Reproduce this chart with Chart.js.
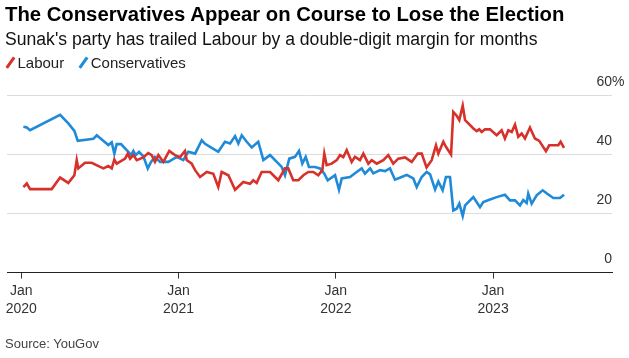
<!DOCTYPE html>
<html>
<head>
<meta charset="utf-8">
<script src="https://cdn.jsdelivr.net/npm/chart.js@4"></script>
<style>
  body { margin: 0; background: #fff; font-family: "Liberation Sans", Arial, sans-serif; color: #000; }
  #wrap { position: relative; width: 629px; height: 358px; overflow: hidden; }
  canvas { position: absolute; left: 0; top: 0; }
  .title { position: absolute; left: 5px; top: 3px; font-size: 20.3px; font-weight: bold; white-space: nowrap; }
  .sub { position: absolute; left: 5px; top: 29px; font-size: 17.6px; white-space: nowrap; color: #111; }
  .legend { position: absolute; left: 6px; top: 54px; font-size: 15px; white-space: nowrap; color: #222; }
  .legend span.key { display: inline-block; width: 2.5px; height: 13px; transform: rotate(35deg); margin: 0 6px 0 3px; vertical-align: -1px; }
  .legend span.key.second { margin-left: 18px; }
  .source { position: absolute; left: 5px; top: 336px; font-size: 13px; color: #444; }
</style>
</head>
<body>
<div id="wrap">
  <canvas id="chart" width="629" height="358"></canvas>
  <div class="title">The Conservatives Appear on Course to Lose the Election</div>
  <div class="sub">Sunak's party has trailed Labour by a double-digit margin for months</div>
  <div class="legend"><span class="key" style="background:#d7312b"></span>Labour<span class="key second" style="background:#1f8bd8"></span>Conservatives</div>
  <div class="source">Source: YouGov</div>
</div>
<script>
// months since Jan 2020, vote share in %
const labourMonths = [0.16,0.42,0.67,2.32,2.96,3.59,4.05,4.23,4.35,4.86,5.37,6.26,6.64,6.90,7.10,7.28,7.92,8.12,8.30,8.55,8.81,9.31,9.69,9.95,10.20,10.46,10.84,11.29,11.73,12.11,12.49,12.62,13.00,13.26,13.64,14.15,14.65,15.03,15.29,15.80,16.31,16.94,17.45,17.70,17.96,18.34,18.98,19.61,20.12,20.37,20.75,21.14,21.52,21.90,22.28,22.66,22.97,23.12,23.30,23.68,24.07,24.32,24.57,24.83,25.21,25.46,25.84,26.10,26.48,26.74,27.12,27.62,28.00,28.38,28.76,29.28,29.79,30.25,30.55,30.92,31.31,31.64,31.82,32.20,32.40,32.79,32.96,33.22,33.42,33.68,33.86,34.11,34.49,34.75,34.94,35.13,35.38,35.76,36.27,36.65,36.90,37.16,37.42,37.67,37.92,38.18,38.43,38.81,39.19,39.52,40.03,40.28,40.97,41.15,41.41];
const labourShare = [28.9,30.1,28.2,28.2,32.1,30.3,32.9,38,35.2,37.1,37.1,35.2,36,35.2,38.2,36.8,38.5,40.2,38.5,39.7,38,38.9,40.4,39.7,37.4,39.7,37.4,41.1,39.7,39,41.1,38,36.8,34.6,32.3,34,33.4,28.9,34,32.9,28,30.6,30,31.2,30.3,34,34,31.2,35.2,35.2,31.2,31.2,32.9,34,34,32.9,34.6,40.2,36.3,36.8,38,39.7,39,41.4,37.4,39.1,38,40.2,36.8,38,36.8,38,39.7,36.8,38.5,38.9,37.4,40.2,40.2,35.5,38,43,40.2,44.2,42.5,39.9,54.3,53,51.5,56.4,51.5,50.4,48.7,47.8,48.4,47.5,48.4,48.4,46.4,48.1,45.3,48.1,47.5,50,45.9,47,45.3,49,45.3,44.5,41,43,43,44.2,42.1];

const conMonths = [0.16,0.42,0.67,2.96,3.59,4.05,4.31,5.50,5.76,6.64,6.90,7.10,7.28,7.61,8.17,8.37,8.55,8.73,8.98,9.31,9.65,9.90,10.20,10.59,11.22,11.86,12.36,12.74,13.26,13.77,14.02,14.40,15.03,15.54,15.93,16.31,16.56,16.82,17.20,17.58,18.08,18.47,18.98,19.49,19.87,20.12,20.45,20.88,21.19,21.44,21.70,21.95,22.41,22.79,23.12,23.38,23.94,24.24,24.45,25.08,25.59,25.97,26.22,26.61,26.86,27.37,27.75,28.13,28.51,29.02,29.41,29.91,30.17,30.55,30.93,31.19,31.57,31.82,32.15,32.40,32.71,32.96,33.22,33.42,33.68,33.86,34.49,34.75,35.00,35.25,35.76,36.27,36.90,37.29,37.67,38.05,38.30,38.56,38.68,38.94,39.32,39.78,40.08,40.59,41.10,41.41];
const conShare = [49.3,49,48.1,53.3,50.4,47.9,44.5,45.2,46.4,43.1,44,40.2,43.4,43.4,40.8,39.7,41.1,39.7,40.8,39.3,35.2,37.4,39.1,37.4,37.4,39.1,38,40.8,40.2,44.7,43.5,42.5,40.8,44.2,43.6,46.1,43.6,46.4,44.2,42.3,44.2,38,39.7,37.4,35.7,32.9,38.5,39.1,41.1,36.8,39.1,35.7,35.7,35.2,33.4,31.2,32.9,28,31.8,32.3,34,35.2,33.4,35.2,33.5,34.6,34.3,35.2,31.4,32.3,33,31.8,28.9,32.3,34,33.2,28.1,30.8,27.8,32.3,32.3,21,21.6,23.3,19.1,22.7,25.5,23.8,22.1,23.8,24.7,25.5,26.3,24.4,24.4,22.7,24.5,23.5,26.7,23.3,26.1,27.8,26.8,25.2,25.2,26.3];

const tickMonths = [0, 12, 24, 36];
const tickLabels = [['Jan', '2020'], ['Jan', '2021'], ['Jan', '2022'], ['Jan', '2023']];
const yTicks = [0, 20, 40, 60];

const toPoints = (xs, ys) => xs.map((x, i) => ({ x: x, y: ys[i] }));

// y labels sit above the gridlines, "%" hangs past the right edge
const yLabels = {
  id: 'yLabels',
  afterDraw(chart) {
    const ctx = chart.ctx;
    const y = chart.scales.y;
    const right = chart.chartArea.right;
    ctx.save();
    ctx.font = '14px "Liberation Sans", Arial, sans-serif';
    ctx.fillStyle = '#333';
    ctx.textBaseline = 'middle';
    yTicks.forEach(v => {
      const py = y.getPixelForValue(v) - 13;
      ctx.textAlign = 'right';
      ctx.fillText(String(v), right, py);
      if (v === 60) {
        ctx.textAlign = 'left';
        ctx.fillText('%', right, py);
      }
    });
    ctx.restore();
  }
};

new Chart(document.getElementById('chart'), {
  type: 'line',
  data: {
    datasets: [{
      label: 'Labour',
      data: toPoints(labourMonths, labourShare),
      borderColor: '#d7312b',
      borderWidth: 2.6,
      pointRadius: 0,
      tension: 0
    }, {
      label: 'Conservatives',
      data: toPoints(conMonths, conShare),
      borderColor: '#1f8bd8',
      borderWidth: 2.6,
      pointRadius: 0,
      tension: 0
    }]
  },
  options: {
    responsive: false,
    animation: false,
    layout: { padding: { top: 95, left: 7, right: 17, bottom: 37 } },
    plugins: { legend: { display: false }, tooltip: { enabled: false } },
    scales: {
      x: {
        type: 'linear',
        min: -1.09,
        max: 45.07,
        afterBuildTicks: axis => { axis.ticks = tickMonths.map(v => ({ value: v })); },
        ticks: {
          autoSkip: false,
          maxRotation: 0,
          color: '#333',
          font: { size: 14, family: '"Liberation Sans", Arial, sans-serif', lineHeight: 1.3 },
          callback: v => tickLabels[tickMonths.indexOf(v)]
        },
        grid: { drawOnChartArea: false, drawTicks: true, tickLength: 6, color: '#333' },
        border: { display: true, color: '#222', width: 1 }
      },
      y: {
        position: 'right',
        min: 0,
        max: 60,
        afterBuildTicks: axis => { axis.ticks = yTicks.map(v => ({ value: v })); },
        ticks: { display: false },
        grid: { color: '#dcdcdc', lineWidth: 1, drawTicks: false },
        border: { display: false }
      }
    }
  },
  plugins: [yLabels]
});
</script>
</body>
</html>
